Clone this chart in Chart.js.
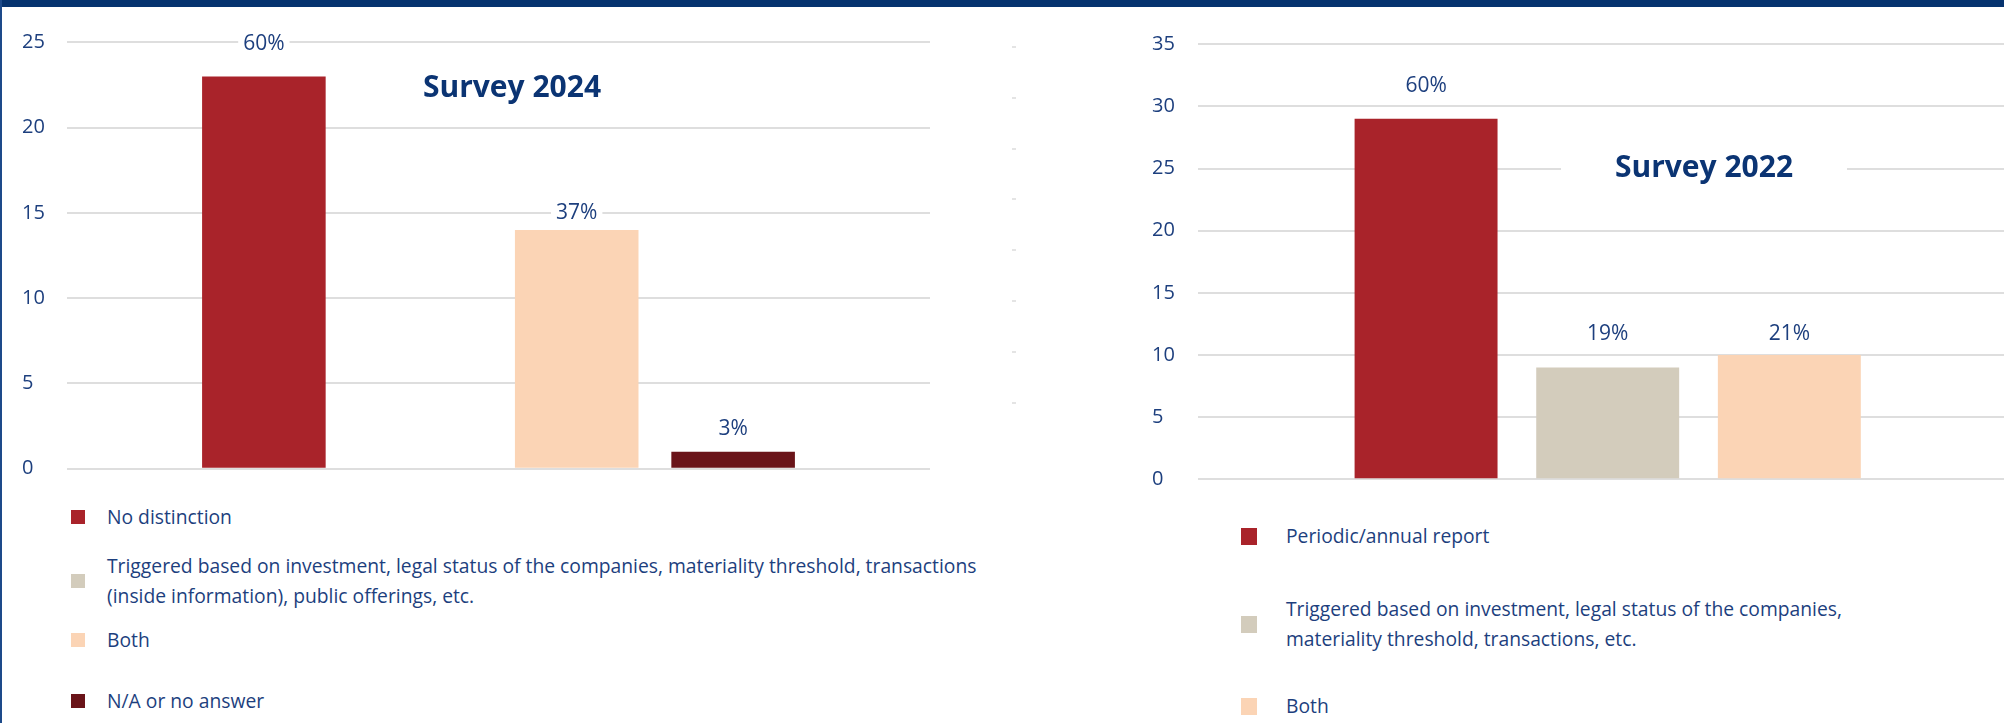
<!DOCTYPE html>
<html>
<head>
<meta charset="utf-8">
<title>Survey 2024 / Survey 2022</title>
<script src="https://cdn.jsdelivr.net/npm/chart.js@4.4.1/dist/chart.umd.min.js"></script>
<style>
  html, body { margin: 0; padding: 0; background: #fff; }
  body { width: 2004px; height: 723px; overflow: hidden; position: relative; font-family: 'Open Sans', sans-serif; }
  .topbar { position: absolute; left: 0; top: 0; width: 2004px; height: 7px; background: #06336f; z-index: 5; }
  .sideline { position: absolute; left: 0; top: 0; width: 2px; height: 723px; background: #1d4a8a; z-index: 5; }
  .panel { position: absolute; top: 0; height: 500px; }
  #panel2024 { left: 0; width: 1000px; }
  #panel2022 { left: 1130px; width: 900px; }
  .survey-title { position: absolute; width: 286px; height: 30px; font-size: 30px; line-height: 30px; font-weight: 700; color: #0b3473; background: #fff; text-align: center; }
  #title2024 { left: 369px; top: 70.7px; }
  #title2022 { left: 1561px; top: 150.7px; }
  .legend { position: absolute; margin: 0; padding: 0; list-style: none; color: #1d3f7e; font-size: 19.3px; line-height: 30px; }
  .legend li { display: flex; align-items: center; white-space: pre-line; }
  .legend .box { flex: none; }
  #legend2024 { left: 71px; top: 502px; }
  #legend2024 .box { width: 14px; height: 14px; margin-right: 22px; }
  #legend2024 li:nth-child(2) { margin-top: 19px; }
  #legend2024 li:nth-child(3) { margin-top: 14px; }
  #legend2024 li:nth-child(4) { margin-top: 31px; }
  #legend2022 { left: 1241px; top: 521px; }
  #legend2022 .box { width: 16px; height: 17px; margin-right: 29px; }
  #legend2022 li:nth-child(2) { margin-top: 43px; }
  #legend2022 li:nth-child(3) { margin-top: 37px; }
  .dashes { position: absolute; left: 1012px; top: 46px; width: 4px; height: 360px;
    background: repeating-linear-gradient(to bottom, #e4e4e4 0, #e4e4e4 2px, transparent 2px, transparent 50.8px); }
</style>
</head>
<body>
<div class="topbar"></div>
<div class="sideline"></div>
<div class="dashes"></div>

<div class="panel" id="panel2024"><canvas id="chart2024"></canvas></div>
<div class="panel" id="panel2022"><canvas id="chart2022"></canvas></div>

<div class="survey-title" id="title2024">Survey 2024</div>
<div class="survey-title" id="title2022">Survey 2022</div>

<ul class="legend" id="legend2024"></ul>
<ul class="legend" id="legend2022"></ul>

<script>
// Survey 2024: number of answers per option, and the share printed above each bar
const answers2024 = [
  "No distinction",
  "Triggered based on investment, legal status of the companies, materiality threshold, transactions\n(inside information), public offerings, etc.",
  "Both",
  "N/A or no answer"
];
const counts2024 = [23, 0, 14, 1];
const shares2024 = ["60%", "", "37%", "3%"];
const yMax2024 = 25;

// Survey 2022
const answers2022 = [
  "Periodic/annual report",
  "Triggered based on investment, legal status of the companies,\nmateriality threshold, transactions, etc.",
  "Both"
];
const counts2022 = [29, 9, 10];
const shares2022 = ["60%", "19%", "21%"];
const yMax2022 = 35;

const yStep = 5;

// bar colours and how far each share label sits above its bar
const colors2024 = ["#a9232a", "#d3ccbc", "#fbd4b5", "#6a1419"];
const lift2024 = [32, 0, 17, 23];
const colors2022 = ["#a9232a", "#d3ccbc", "#fbd4b5"];
const lift2022 = [33, 33, 21];

const navy = "#1d3f7e";

Chart.defaults.font.family = "'Open Sans', sans-serif";

// prints the share text over each bar on a small white patch
const shareLabels = {
  id: "shareLabels",
  afterDatasetsDraw(chart) {
    const ctx = chart.ctx;
    ctx.save();
    ctx.font = "21px 'Open Sans', sans-serif";
    ctx.textAlign = "center";
    ctx.textBaseline = "middle";
    chart.data.datasets.forEach(function (ds, i) {
      const meta = chart.getDatasetMeta(i);
      meta.data.forEach(function (bar) {
        if (!ds.share) return;
        const y = bar.y - ds.lift;
        const w = ctx.measureText(ds.share).width + 10;
        ctx.fillStyle = "#fff";
        ctx.fillRect(bar.x - w / 2, y - 12, w, 24);
        ctx.fillStyle = navy;
        ctx.fillText(ds.share, bar.x, y);
      });
    });
    ctx.restore();
  }
};

function makeChart(canvasId, answers, counts, shares, colors, lifts, yMax, layout) {
  const ctx = document.getElementById(canvasId).getContext("2d");
  return new Chart(ctx, {
    type: "bar",
    data: {
      labels: [""],
      datasets: answers.map(function (name, i) {
        return {
          label: name,
          data: [counts[i]],
          share: shares[i],
          lift: lifts[i],
          backgroundColor: colors[i],
          borderWidth: 0,
          barPercentage: layout.barPercentage,
          categoryPercentage: layout.categoryPercentage
        };
      })
    },
    options: {
      responsive: true,
      maintainAspectRatio: false,
      animation: false,
      layout: { padding: layout.padding },
      scales: {
        x: { display: false },
        y: {
          min: 0,
          max: yMax,
          afterFit: function (scale) { scale.width = layout.axisWidth; },
          ticks: {
            stepSize: yStep,
            crossAlign: "far",
            color: navy,
            font: { size: 20 }
          },
          grid: { color: "#dedede", lineWidth: 2, drawTicks: false },
          border: { display: false }
        }
      },
      plugins: {
        legend: { display: false },
        tooltip: { enabled: false }
      }
    },
    plugins: [shareLabels]
  });
}

// legend rows built as html from the chart's own legend items
function buildLegend(chart, listId) {
  const list = document.getElementById(listId);
  const items = chart.options.plugins.legend.labels.generateLabels(chart);
  items.forEach(function (item) {
    const li = document.createElement("li");
    const box = document.createElement("span");
    box.className = "box";
    box.style.background = item.fillStyle;
    const text = document.createElement("span");
    text.textContent = item.text;
    li.appendChild(box);
    li.appendChild(text);
    list.appendChild(li);
  });
}

const chart2024 = makeChart("chart2024", answers2024, counts2024, shares2024, colors2024, lift2024, yMax2024, {
  padding: { left: 22, right: 70, top: 42.3, bottom: 31.3 },
  axisWidth: 45,
  categoryPercentage: 0.725,
  barPercentage: 0.79
});

const chart2022 = makeChart("chart2022", answers2022, counts2022, shares2022, colors2022, lift2022, yMax2022, {
  padding: { left: 22, right: 12.6, top: 44.3, bottom: 20.7 },
  axisWidth: 46,
  categoryPercentage: 0.665,
  barPercentage: 0.787
});

buildLegend(chart2024, "legend2024");
buildLegend(chart2022, "legend2022");
</script>
</body>
</html>
